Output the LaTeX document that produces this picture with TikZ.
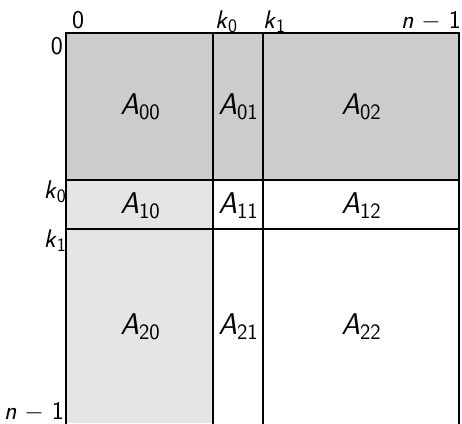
\documentclass[tikz,border=0pt]{standalone}
\usepackage{fontspec}
\newcommand{\cellsub}[2]{\textit{#1}\raisebox{-5pt}{\fontsize{22}{24}\selectfont #2}}
\newcommand{\lblsub}[2]{\textit{#1}\raisebox{-4pt}{\fontsize{19}{21}\selectfont #2}}
\begin{document}
\begin{tikzpicture}[x=1pt,y=-1pt,
  lbl/.style={inner sep=1pt,font=\fontsize{25.5}{28}\selectfont\sffamily},
  cell/.style={font=\fontsize{30}{34}\selectfont\sffamily,inner sep=0pt},
  grid line/.style={line width=2pt,black}]
\useasboundingbox (0,0) rectangle (462,423);
\definecolor{dark}{gray}{0.8}
\definecolor{light}{gray}{0.9}
% fills
\fill[dark] (66,33) rectangle (459,180);
\fill[light] (66,180) rectangle (213,423);
% cells
\node[cell] (a00) at (140,107) {\cellsub{A}{00}};
\node[cell] (a01) at (238,107) {\cellsub{A}{01}};
\node[cell] (a02) at (361,107) {\cellsub{A}{02}};
\node[cell] (a10) at (140,206) {\cellsub{A}{10}};
\node[cell] (a11) at (238,206) {\cellsub{A}{11}};
\node[cell] (a12) at (361,206) {\cellsub{A}{12}};
\node[cell] (a20) at (140,327) {\cellsub{A}{20}};
\node[cell] (a21) at (238,327) {\cellsub{A}{21}};
\node[cell] (a22) at (361,327) {\cellsub{A}{22}};
% grid
\draw[grid line] (66,424) -- (66,33) -- (459,33) -- (459,424);
\draw[grid line] (213,33) -- (213,424);
\draw[grid line] (263,33) -- (263,424);
\draw[grid line] (66,180) -- (459,180);
\draw[grid line] (66,229) -- (459,229);
% axis labels
\node[lbl,anchor=base west] (c0) at (71,28) {0};
\node[lbl,anchor=base west] (ck0) at (214,28) {\lblsub{k}{0}};
\node[lbl,anchor=base west] (ck1) at (262,28) {\lblsub{k}{1}};
\node[lbl,anchor=base east] (cn) at (462,28) {\textit{n} $-$ 1};
\node[lbl,anchor=base east] (r0) at (64,54) {0};
\node[lbl,anchor=base east] (rk0) at (67,198) {\lblsub{k}{0}};
\node[lbl,anchor=base east] (rk1) at (67,247) {\lblsub{k}{1}};
\node[lbl,anchor=base east] (rn) at (65,419) {\textit{n} $-$ 1};
\end{tikzpicture}
\end{document}
